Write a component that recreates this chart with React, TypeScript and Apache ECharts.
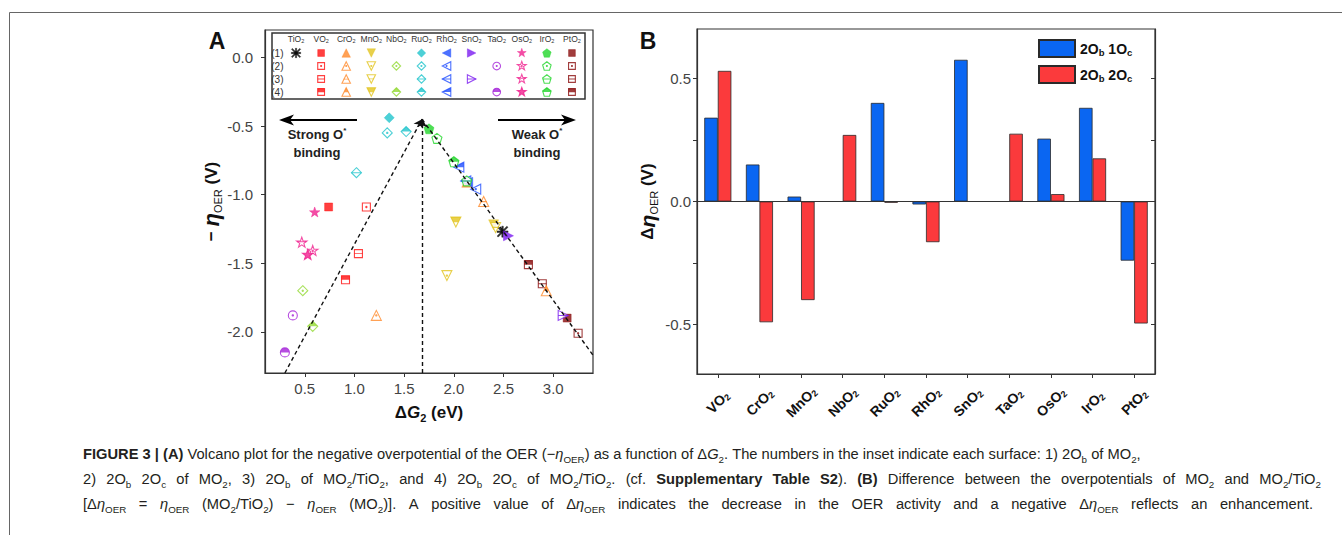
import React, { useEffect, useRef } from "react";
import * as echarts from "echarts";

// ---------- Panel A data ----------
const materials = ["TiO2", "VO2", "CrO2", "MnO2", "NbO2", "RuO2", "RhO2", "SnO2", "TaO2", "OsO2", "IrO2", "PtO2"];
const surfaces = ["(1)", "(2)", "(3)", "(4)"];
const matColors = ["#000000", "#ff1010", "#ff8a2a", "#e2c41e", "#93d934", "#20c4cc", "#1f4dff", "#7a1cf0", "#a421d8", "#f0208e", "#22d62a", "#8a0c0c"];
const matShapes = ["asterisk", "square", "triUp", "triDown", "diamond", "diamond", "triLeft", "triRight", "circle", "star", "pentagon", "square"];

type Pt = [number, number] | null;
// [surface (1), (2), (3), (4)] as [ΔG2 (eV), −ηOER (V)]
const ptsTiO2: Pt[] = [[2.49, -1.27], null, null, null];
const ptsVO2: Pt[] = [[0.74, -1.09], [1.12, -1.09], [1.04, -1.43], [0.91, -1.62]];
const ptsCrO2: Pt[] = [[2.13, -0.91], [1.22, -1.88], [2.30, -1.05], [2.93, -1.70]];
const ptsMnO2: Pt[] = [[2.40, -1.22], [1.93, -1.59], [2.42, -1.24], [2.02, -1.20]];
const ptsNbO2: Pt[] = [null, [0.48, -1.70], null, [0.58, -1.96]];
const ptsRuO2: Pt[] = [[1.35, -0.44], [1.33, -0.55], [1.02, -0.84], [1.52, -0.54]];
const ptsRhO2: Pt[] = [[2.14, -0.91], [2.22, -0.96], [2.12, -0.90], [2.05, -0.80]];
const ptsSnO2: Pt[] = [[2.55, -1.30], null, [3.10, -1.88], null];
const ptsTaO2: Pt[] = [null, [0.38, -1.88], null, [0.30, -2.15]];
const ptsOsO2: Pt[] = [[0.60, -1.13], [0.58, -1.41], [0.47, -1.35], [0.53, -1.44]];
const ptsIrO2: Pt[] = [[1.75, -0.52], [1.83, -0.59], [2.13, -0.90], [2.00, -0.76]];
const ptsPtO2: Pt[] = [[3.14, -1.90], [3.25, -2.01], [2.89, -1.65], [2.75, -1.51]];
const allPts = [ptsTiO2, ptsVO2, ptsCrO2, ptsMnO2, ptsNbO2, ptsRuO2, ptsRhO2, ptsSnO2, ptsTaO2, ptsOsO2, ptsIrO2, ptsPtO2];

const volcanoLeft = [[0.30, -2.30], [1.68, -0.45]];
const volcanoRight = [[1.68, -0.45], [3.40, -2.17]];
const volcanoTop = [[1.68, -2.30], [1.68, -0.45]];
const aXTicks = [0.5, 1.0, 1.5, 2.0, 2.5, 3.0];
const aYTicks = [-2.0, -1.5, -1.0, -0.5, 0.0];

// ---------- Panel B data ----------
const barCategories = ["VO2", "CrO2", "MnO2", "NbO2", "RuO2", "RhO2", "SnO2", "TaO2", "OsO2", "IrO2", "PtO2"];
const delta1Oc = [0.34, 0.15, 0.02, null, 0.40, -0.012, 0.575, null, 0.255, 0.38, -0.24];
const delta2Oc = [0.53, -0.49, -0.40, 0.27, -0.005, -0.165, null, 0.275, 0.03, 0.175, -0.495];
const bYLabels = [-0.5, 0.0, 0.5];
const bYTicks = [-0.5, -0.25, 0.0, 0.25, 0.5];

const FONT = "'Liberation Sans', Arial, Helvetica, sans-serif";

// ---------- symbol shapes ----------
const BB = "M0,0L0.01,0M100,100L99.99,100";
const P = (d: string) => "path://" + d + BB;
const starPath = (() => {
  let d = "";
  for (let k = 0; k < 10; k++) {
    const r = k % 2 === 0 ? 50 : 20;
    const a = ((-90 + k * 36) * Math.PI) / 180;
    const x = (50 + r * Math.cos(a)).toFixed(2);
    const y = (50 + r * Math.sin(a)).toFixed(2);
    d += (k === 0 ? "M" : "L") + x + "," + y;
  }
  return d + "Z";
})();
const SH: Record<string, { base: string; half: string; line: string; size: number }> = {
  asterisk: {
    base: "M0,43H100V57H0ZM43,0H57V100H43ZM10.5,0.6L99.4,89.5L89.5,99.4L0.6,10.5ZM89.5,0.6L99.4,10.5L10.5,99.4L0.6,89.5Z",
    half: "", line: "", size: 11,
  },
  square: { base: "M0,0H100V100H0Z", half: "M0,0H100V52H0Z", line: "M0,44H100V56H0Z", size: 8 },
  triUp: { base: "M50,0L100,100H0Z", half: "M50,0L76,52H24Z", line: "M20,46H80V57H20Z", size: 10 },
  triDown: { base: "M0,0H100L50,100Z", half: "M0,0H100L74,52H26Z", line: "M20,43H80V54H20Z", size: 10 },
  diamond: { base: "M50,0L100,50L50,100L0,50Z", half: "M50,0L100,50H0Z", line: "M0,45H100V55H0Z", size: 10 },
  triLeft: { base: "M0,50L100,0V100Z", half: "M0,50L100,0V50Z", line: "M0,45H100V55H0Z", size: 10 },
  triRight: { base: "M0,0L100,50L0,100Z", half: "M0,0L100,50H0Z", line: "M0,45H100V55H0Z", size: 10 },
  circle: { base: "M0,50A50,50 0 1 1 100,50A50,50 0 1 1 0,50Z", half: "M0,50A50,50 0 0 1 100,50Z", line: "M0,45H100V55H0Z", size: 9 },
  star: { base: starPath, half: starPath, line: "M8,38H92V47H8Z", size: 11 },
  pentagon: { base: "M50,0L100,38L81,100H19L0,38Z", half: "M50,0L100,38L96.3,50H3.7L0,38Z", line: "M2,45H98V55H2Z", size: 10 },
};

function symbolSeries(xAxisIndex: number, yAxisIndex: number, scale: number, valueOf: (mi: number, si: number, pt: [number, number]) => any, z: number) {
  const out: any[] = [];
  for (let si = 0; si < 4; si++) {
    const base: any[] = [];
    const over: any[] = [];
    allPts.forEach((pts, mi) => {
      const pt = pts[si];
      if (!pt) return;
      const sh = SH[matShapes[mi]];
      const c = matColors[mi];
      const size = sh.size * scale;
      const value = valueOf(mi, si, pt);
      if (si === 0) {
        base.push({ value, symbol: P(sh.base), symbolSize: size, itemStyle: { color: c, borderColor: c, borderWidth: 0.5 } });
      } else {
        base.push({ value, symbol: P(sh.base), symbolSize: size, itemStyle: { color: "#ffffff", borderColor: c, borderWidth: 1.1 } });
        if (si === 1) over.push({ value, symbol: "circle", symbolSize: 2.4 * scale, itemStyle: { color: c, borderWidth: 0 } });
        if (si === 2) over.push({ value, symbol: P(sh.line), symbolSize: size, itemStyle: { color: c, borderWidth: 0 } });
        if (si === 3) over.push({ value, symbol: P(sh.half), symbolSize: size, itemStyle: { color: c, borderWidth: 0 } });
      }
    });
    const common = { type: "scatter", xAxisIndex, yAxisIndex, silent: true, z, animation: false };
    out.push({ ...common, name: "base" + si + "_" + xAxisIndex, data: base });
    out.push({ ...common, name: "over" + si + "_" + xAxisIndex, data: over });
  }
  return out;
}

const subName = (n: string, main: string, sub: string) => `{${main}|${n.slice(0, -1)}}{${sub}|${n.slice(-1)}}`;

// ---------- caption ----------
type Tok = [string, string];
const cap1: Tok[] = [
  ["b", "FIGURE 3 | (A)"], ["n", " Volcano plot for the negative overpotential of the OER (−"], ["i", "η"], ["s", "OER"],
  ["n", ") as a function of Δ"], ["i", "G"], ["s", "2"], ["n", ". The numbers in the inset indicate each surface: 1) 2O"], ["s", "b"],
  ["n", " of MO"], ["s", "2"], ["n", ","],
];
const cap2: Tok[] = [
  ["n", "2) 2O"], ["s", "b"], ["n", " 2O"], ["s", "c"], ["n", " of MO"], ["s", "2"], ["n", ", 3) 2O"], ["s", "b"], ["n", " of MO"], ["s", "2"],
  ["n", "/TiO"], ["s", "2"], ["n", ", and 4) 2O"], ["s", "b"], ["n", " 2O"], ["s", "c"], ["n", " of MO"], ["s", "2"], ["n", "/TiO"], ["s", "2"],
  ["n", ". (cf. "], ["b", "Supplementary Table S2"], ["n", "). "], ["b", "(B)"], ["n", " Difference between the overpotentials of MO"], ["s", "2"],
  ["n", " and MO"], ["s", "2"], ["n", "/TiO"], ["s", "2"],
];
const cap3: Tok[] = [
  ["n", "[Δ"], ["i", "η"], ["s", "OER"], ["n", " = "], ["i", "η"], ["s", "OER"], ["n", " (MO"], ["s", "2"], ["n", "/TiO"], ["s", "2"], ["n", ") − "],
  ["i", "η"], ["s", "OER"], ["n", " (MO"], ["s", "2"], ["n", ")]. A positive value of Δ"], ["i", "η"], ["s", "OER"],
  ["n", " indicates the decrease in the OER activity and a negative Δ"], ["i", "η"], ["s", "OER"], ["n", " reflects an enhancement."],
];
const capFs = 14.7;
const capSub = 9.8;
const capX = 83;
const capStyles: Record<string, any> = {
  n: { fontSize: capFs, fontFamily: FONT, fill: "#231f20", color: "#231f20", lineHeight: 20 },
  b: { fontSize: capFs, fontFamily: FONT, fontWeight: "bold", fill: "#231f20", color: "#231f20", lineHeight: 20 },
  i: { fontSize: capFs, fontFamily: FONT, fontStyle: "italic", fill: "#231f20", color: "#231f20", lineHeight: 20 },
  s: { fontSize: capSub, fontFamily: FONT, fill: "#231f20", color: "#231f20", lineHeight: 11, verticalAlign: "bottom" },
};

let measureCtx: CanvasRenderingContext2D | null = null;
function measure(style: string, text: string): number {
  if (!measureCtx) measureCtx = document.createElement("canvas").getContext("2d");
  const st = capStyles[style];
  measureCtx!.font = `${st.fontStyle || "normal"} ${st.fontWeight || "normal"} ${st.fontSize}px ${FONT}`;
  return measureCtx!.measureText(text).width;
}

// returns rich text + rich style table; spaces widened so that the line ends at `right` (justified) when given
function captionLine(toks: Tok[], right: number | null) {
  const pieces: Tok[] = [];
  toks.forEach(([st, tx]) => {
    if (st === "s") { pieces.push([st, tx]); return; }
    tx.split(" ").forEach((p, idx) => {
      if (idx > 0) pieces.push(["sp", " "]);
      if (p) pieces.push([st, p]);
    });
  });
  let natural = 0;
  let spaces = 0;
  pieces.forEach(([st, tx]) => {
    if (st === "sp") spaces++;
    else natural += measure(st, tx);
  });
  const normalSpace = measure("n", " ");
  const gap = right !== null && spaces > 0 ? (right - capX - natural) / spaces : normalSpace;
  const rich = { ...capStyles, sp: { ...capStyles.n, width: gap } };
  return { text: pieces.map((t) => `{${t[0]}|${t[1]}}`).join(""), rich };
}

function buildOption(): any {
  const axisColor = "#333";
  const tickLabel = { fontFamily: FONT, fontSize: 15, color: "#444" };
  const legendRich = {
    b: { fontFamily: FONT, fontSize: 14, fontWeight: "bold", color: "#111", lineHeight: 18 },
    s: { fontFamily: FONT, fontSize: 9.5, fontWeight: "bold", color: "#111", lineHeight: 10, verticalAlign: "bottom" },
  };
  const annRich = {
    b: { fontFamily: FONT, fontSize: 13, fontWeight: "bold", fill: "#222", lineHeight: 16 },
    p: { fontFamily: FONT, fontSize: 8, fontWeight: "bold", fill: "#222", lineHeight: 8, verticalAlign: "top" },
  };
  const dashed = { type: [4, 3], color: "#111", width: 1.4 };
  const c1 = captionLine(cap1, null);
  const c2 = captionLine(cap2, 1321);
  const c3 = captionLine(cap3, 1313);
  return {
    animation: false,
    backgroundColor: "#ffffff",
    grid: [
      { left: 265, top: 30, width: 328, height: 343, show: true, borderColor: axisColor, borderWidth: 1.2, backgroundColor: "transparent" },
      { left: 697, top: 29, width: 458, height: 345, show: true, borderColor: axisColor, borderWidth: 1.2, backgroundColor: "transparent" },
      { left: 283.5, top: 46.5, width: 301, height: 52 },
    ],
    xAxis: [
      {
        type: "value", gridIndex: 0, min: 0.1, max: 3.4,
        axisLine: { show: true, onZero: false, lineStyle: { color: axisColor, width: 1.2 } },
        axisTick: { show: true, length: 4, customValues: aXTicks, lineStyle: { color: axisColor } },
        axisLabel: { ...tickLabel, margin: 8, customValues: aXTicks, formatter: (v: number) => v.toFixed(1) },
        splitLine: { show: false },
        name: "{b|Δ}{i|G}{s|2}{b| (eV)}", nameLocation: "middle", nameGap: 28,
        nameTextStyle: {
          rich: {
            b: { fontFamily: FONT, fontSize: 17, fontWeight: "bold", color: "#111", lineHeight: 22 },
            i: { fontFamily: FONT, fontSize: 17, fontWeight: "bold", fontStyle: "italic", color: "#111", lineHeight: 22 },
            s: { fontFamily: FONT, fontSize: 11, fontWeight: "bold", color: "#111", lineHeight: 12, verticalAlign: "bottom" },
          },
        },
      },
      {
        type: "category", gridIndex: 1, data: barCategories,
        axisLine: { show: true, onZero: false, lineStyle: { color: axisColor, width: 1.2 } },
        axisTick: { show: true, length: 4, alignWithLabel: true, lineStyle: { color: axisColor } },
        axisLabel: {
          rotate: 45, margin: 28, align: "center", verticalAlign: "middle", interval: 0,
          formatter: (v: string) => subName(v, "a", "s"),
          rich: {
            a: { fontFamily: FONT, fontSize: 14, fontWeight: "bold", color: "#111", lineHeight: 16 },
            s: { fontFamily: FONT, fontSize: 9, fontWeight: "bold", color: "#111", lineHeight: 9, verticalAlign: "bottom" },
          },
        },
      },
      {
        type: "category", gridIndex: 2, data: materials, position: "top",
        axisLine: { show: false, onZero: false }, axisTick: { show: false },
        axisLabel: {
          margin: 3, interval: 0,
          formatter: (v: string) => subName(v, "a", "s"),
          rich: {
            a: { fontFamily: FONT, fontSize: 8.5, color: "#333", lineHeight: 9 },
            s: { fontFamily: FONT, fontSize: 5.5, color: "#333", lineHeight: 6, verticalAlign: "bottom" },
          },
        },
      },
    ],
    yAxis: [
      {
        type: "value", gridIndex: 0, min: -2.3, max: 0.2,
        axisLine: { show: true, onZero: false, lineStyle: { color: axisColor, width: 1.2 } },
        axisTick: { show: true, length: 4, customValues: aYTicks, lineStyle: { color: axisColor } },
        axisLabel: { ...tickLabel, margin: 12, customValues: aYTicks, formatter: (v: number) => v.toFixed(1) },
        splitLine: { show: false },
        name: "{b|− }{i|η}{s|OER}{b| (V)}", nameLocation: "middle", nameGap: 32, nameRotate: 90,
        nameTextStyle: {
          rich: {
            b: { fontFamily: FONT, fontSize: 17, fontWeight: "bold", color: "#111", lineHeight: 24 },
            i: { fontFamily: FONT, fontSize: 22, fontWeight: "bold", fontStyle: "italic", color: "#111", lineHeight: 24 },
            s: { fontFamily: FONT, fontSize: 11, color: "#111", lineHeight: 12, verticalAlign: "bottom" },
          },
        },
      },
      {
        type: "value", gridIndex: 1, min: -0.7, max: 0.7,
        axisLine: { show: true, onZero: false, lineStyle: { color: axisColor, width: 1.2 } },
        axisTick: { show: true, length: 4, customValues: bYTicks, lineStyle: { color: axisColor } },
        axisLabel: { ...tickLabel, margin: 6, customValues: bYLabels, formatter: (v: number) => v.toFixed(1) },
        splitLine: { show: false },
        name: "{b|Δ}{i|η}{s|OER}{b| (V)}", nameLocation: "middle", nameGap: 38, nameRotate: 90,
        nameTextStyle: {
          rich: {
            b: { fontFamily: FONT, fontSize: 17, fontWeight: "bold", color: "#111", lineHeight: 24 },
            i: { fontFamily: FONT, fontSize: 21, fontWeight: "bold", fontStyle: "italic", color: "#111", lineHeight: 24 },
            s: { fontFamily: FONT, fontSize: 11, color: "#111", lineHeight: 12, verticalAlign: "bottom" },
          },
        },
      },
      {
        type: "value", gridIndex: 1, min: -0.7, max: 0.7, position: "right",
        axisLine: { show: true, onZero: false, lineStyle: { color: axisColor, width: 1.2 } },
        axisTick: { show: true, inside: true, length: 4, customValues: [-0.5, -0.25, 0.25, 0.5], lineStyle: { color: axisColor } },
        axisLabel: { show: false }, splitLine: { show: false },
      },
      {
        type: "category", gridIndex: 2, data: surfaces, inverse: true,
        axisLine: { show: false, onZero: false }, axisTick: { show: false },
        axisLabel: { fontFamily: FONT, fontSize: 10, color: "#333", margin: 0, interval: 0 },
      },
    ],
    legend: {
      data: ["2Ob1Oc", "2Ob2Oc"], orient: "vertical", left: 1033, top: 34,
      itemWidth: 36, itemHeight: 17, itemGap: 7, icon: "rect", selectedMode: false,
      formatter: (n: string) => (n === "2Ob1Oc" ? "{b|2O}{s|b}{b| 1O}{s|c}" : "{b|2O}{s|b}{b| 2O}{s|c}"),
      textStyle: { rich: legendRich },
    },
    series: [
      {
        type: "line", name: "volcano", xAxisIndex: 0, yAxisIndex: 0, data: [], silent: true, z: 1,
        markLine: {
          silent: true, symbolSize: 8, label: { show: false }, lineStyle: dashed,
          emphasis: { disabled: true },
          data: [
            [{ coord: volcanoLeft[0], symbol: "none" }, { coord: volcanoLeft[1], symbol: "arrow" }],
            [{ coord: volcanoTop[0], symbol: "none" }, { coord: volcanoTop[1], symbol: "arrow" }],
            [{ coord: volcanoRight[0], symbol: "none" }, { coord: volcanoRight[1], symbol: "none" }],
          ],
        },
      },
      ...symbolSeries(0, 0, 1, (mi, si, pt) => pt, 3),
      ...symbolSeries(2, 3, 0.85, (mi, si) => [mi, si], 4),
      {
        type: "bar", name: "2Ob1Oc", xAxisIndex: 1, yAxisIndex: 1, data: delta1Oc,
        barGap: "0%", barCategoryGap: "35%",
        itemStyle: { color: "#0a66f2", borderColor: "#2a2a2a", borderWidth: 0.8 },
        markLine: {
          silent: true, symbol: "none", label: { show: false }, emphasis: { disabled: true },
          lineStyle: { type: "solid", color: "#333", width: 1.2 },
          data: [{ yAxis: 0 }],
        },
      },
      {
        type: "bar", name: "2Ob2Oc", xAxisIndex: 1, yAxisIndex: 1, data: delta2Oc,
        barGap: "0%", barCategoryGap: "35%",
        itemStyle: { color: "#fb3a3c", borderColor: "#2a2a2a", borderWidth: 0.8 },
      },
    ],
    graphic: [
      { type: "line", shape: { x1: 9.5, y1: 12.5, x2: 1342, y2: 12.5 }, style: { stroke: "#666", lineWidth: 1 }, silent: true },
      { type: "line", shape: { x1: 9.5, y1: 12.5, x2: 9.5, y2: 535 }, style: { stroke: "#666", lineWidth: 1 }, silent: true },
      { type: "text", style: { text: "A", x: 217, y: 41, align: "center", verticalAlign: "middle", font: `bold 23px ${FONT}`, fill: "#111" } },
      { type: "text", style: { text: "B", x: 648, y: 41, align: "center", verticalAlign: "middle", font: `bold 23px ${FONT}`, fill: "#111" } },
      { type: "rect", shape: { x: 272, y: 33, width: 313, height: 66 }, style: { fill: "none", stroke: "#333", lineWidth: 1.5 }, silent: true },
      { type: "line", shape: { x1: 357, y1: 120, x2: 287, y2: 120 }, style: { stroke: "#000", lineWidth: 2 }, silent: true },
      { type: "polygon", shape: { points: [[279, 120], [294, 114.5], [290, 120], [294, 125.5]] }, style: { fill: "#000" }, silent: true },
      { type: "line", shape: { x1: 498, y1: 120, x2: 568, y2: 120 }, style: { stroke: "#000", lineWidth: 2 }, silent: true },
      { type: "polygon", shape: { points: [[576, 120], [561, 114.5], [565, 120], [561, 125.5]] }, style: { fill: "#000" }, silent: true },
      { type: "text", style: { text: "{b|Strong O}{p|*}", rich: annRich, x: 317, y: 134, align: "center", verticalAlign: "middle" } },
      { type: "text", style: { text: "{b|binding}", rich: annRich, x: 317, y: 152, align: "center", verticalAlign: "middle" } },
      { type: "text", style: { text: "{b|Weak O}{p|*}", rich: annRich, x: 537, y: 134, align: "center", verticalAlign: "middle" } },
      { type: "text", style: { text: "{b|binding}", rich: annRich, x: 537, y: 152, align: "center", verticalAlign: "middle" } },
      { type: "text", style: { text: c1.text, rich: c1.rich, x: capX, y: 454, verticalAlign: "middle" } },
      { type: "text", style: { text: c2.text, rich: c2.rich, x: capX, y: 479, verticalAlign: "middle" } },
      { type: "text", style: { text: c3.text, rich: c3.rich, x: capX, y: 504, verticalAlign: "middle" } },
    ],
  };
}

export default function App() {
  const ref = useRef<HTMLDivElement>(null);
  useEffect(() => {
    if (!ref.current) return;
    const chart = echarts.init(ref.current, null, { renderer: "svg" });
    chart.setOption(buildOption());
    return () => chart.dispose();
  }, []);
  return (
    <div
      ref={ref}
      style={{ position: "fixed", left: 0, top: 0, width: 1342, height: 535, background: "#ffffff" }}
    />
  );
}
